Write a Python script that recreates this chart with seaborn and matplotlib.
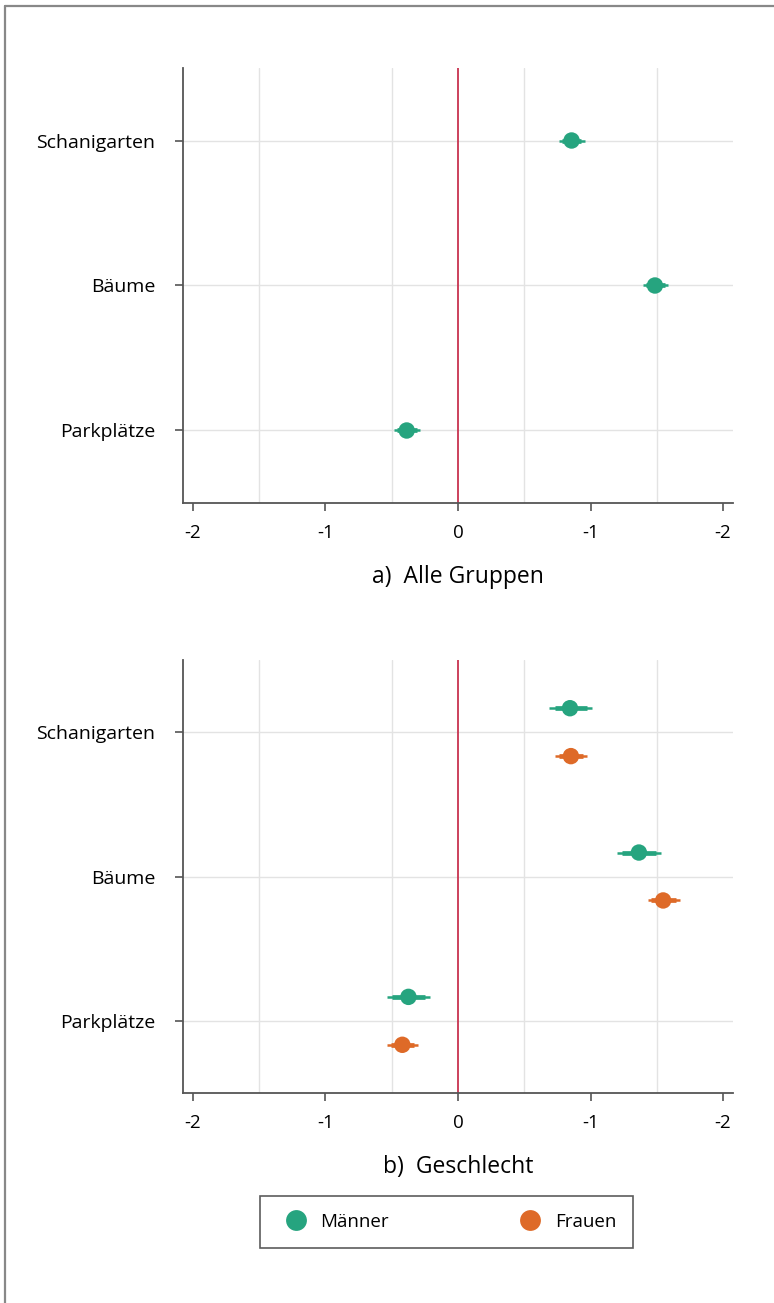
import numpy as np
import pandas as pd
import matplotlib
matplotlib.use("Agg")
import matplotlib.pyplot as plt
import seaborn as sns
from matplotlib.lines import Line2D

sns.set_style("white")
plt.rcParams['font.family'] = ['Open Sans', 'DejaVu Sans']
plt.rcParams['text.color'] = 'black'
plt.rcParams['xtick.color'] = 'black'
plt.rcParams['ytick.color'] = 'black'
plt.rcParams['axes.labelcolor'] = 'black'

# ---------------- data ----------------
categories = ["Schanigarten", "Bäume", "Parkplätze"]
xtick_values = [-2, -1, 0, 1, 2]
xtick_labels = ["-2", "-1", "0", "-1", "-2"]

all_est = [0.857, 1.486, -0.387]
all_lo = [0.76, 1.393, -0.48]
all_hi = [0.955, 1.582, -0.287]

groups = ["Männer", "Frauen"]
men_est = [0.845, 1.365, -0.374]
men_lo = [0.69, 1.20, -0.537]
men_hi = [1.01, 1.53, -0.211]
women_est = [0.852, 1.548, -0.42]
women_lo = [0.73, 1.43, -0.537]
women_hi = [0.975, 1.674, -0.30]

colors = {"Männer": "#26a47f", "Frauen": "#de6a28"}
zero_color = "#c8334f"

W, H = 774, 1303
fig = plt.figure(figsize=(W / 100, H / 100), dpi=100)

def axrect(l, t, r, b):
    return [l / W, 1 - b / H, (r - l) / W, (b - t) / H]

ax_a = fig.add_axes(axrect(183, 68, 733, 503))
ax_b = fig.add_axes(axrect(183, 660, 733, 1093))

def draw_ci(ax, y, lo, hi, color):
    for yy, l, h in zip(y, lo, hi):
        span = h - l
        ax.hlines(yy, l, h, color=color, lw=1.8, zorder=3)
        ax.hlines(yy, l + 0.12 * span, h - 0.12 * span, color=color, lw=3.4, zorder=3)

def style_axis(ax, title):
    ax.set_xlim(-2.075, 2.075)
    ax.set_ylim(2.5, -0.5)
    ax.set_xticks(xtick_values)
    ax.set_xticklabels(xtick_labels)
    ax.set_xticks(np.arange(-2, 2.01, 0.5), minor=True)
    ax.set_yticks(range(len(categories)))
    ax.set_yticklabels(categories)
    ax.grid(True, which="minor", axis="x", color="#e3e3e3", lw=1)
    ax.grid(True, which="major", axis="y", color="#e3e3e3", lw=1)
    ax.set_axisbelow(True)
    for s in ["top", "right"]:
        ax.spines[s].set_visible(False)
    for s in ["left", "bottom"]:
        ax.spines[s].set_color("#555555")
        ax.spines[s].set_linewidth(1.3)
    ax.tick_params(axis="both", which="major", length=6, width=1.2, color="#555555",
                   labelsize=13.5, direction="out", bottom=True, left=True)
    ax.tick_params(axis="y", pad=14, labelsize=14)
    ax.tick_params(axis="x", pad=9)
    ax.tick_params(axis="x", which="minor", length=0)
    ax.axvline(0, color=zero_color, lw=1.3, zorder=2)
    ax.set_xlabel(title, fontsize=16.5, labelpad=17)
    ax.set_ylabel("")

# Panel a
ypos = np.arange(len(categories))
df_a = pd.DataFrame({"cat": categories, "y": ypos, "est": all_est})
draw_ci(ax_a, ypos, all_lo, all_hi, colors["Männer"])
sns.scatterplot(data=df_a, x="est", y="y", ax=ax_a, color=colors["Männer"],
                s=140, edgecolor="none", zorder=4, legend=False)
style_axis(ax_a, "a)  Alle Gruppen")

# Panel b
off = 0.166
df_b = pd.DataFrame({
    "cat": categories * 2,
    "group": ["Männer"] * 3 + ["Frauen"] * 3,
    "y": np.concatenate([ypos - off, ypos + off]),
    "est": men_est + women_est,
})
draw_ci(ax_b, ypos - off, men_lo, men_hi, colors["Männer"])
draw_ci(ax_b, ypos + off, women_lo, women_hi, colors["Frauen"])
sns.scatterplot(data=df_b, x="est", y="y", hue="group", palette=colors, ax=ax_b,
                s=140, edgecolor="none", zorder=4, legend=False)
style_axis(ax_b, "b)  Geschlecht")

# Legend
handles = [Line2D([], [], marker="o", ls="none", markersize=15, markeredgewidth=0,
                  markerfacecolor=colors[g], label=g) for g in groups]
leg = fig.legend(handles=handles, ncol=2, mode="expand",
                 bbox_to_anchor=(260 / W, 1 - 1250 / H, 373 / W, 56 / H),
                 loc="center", fontsize=13.5, frameon=True, fancybox=False,
                 handletextpad=0.3, borderpad=0.9, borderaxespad=0)
leg.get_frame().set_edgecolor("#333333")
leg.get_frame().set_linewidth(1.2)

# Figure border (left and top)
fig.add_artist(Line2D([5 / W, 5 / W], [0, 1 - 6 / H], color="#888888", lw=1.6))
fig.add_artist(Line2D([5 / W, 1], [1 - 6 / H, 1 - 6 / H], color="#888888", lw=1.6))

fig.savefig("out.png", dpi=100)
